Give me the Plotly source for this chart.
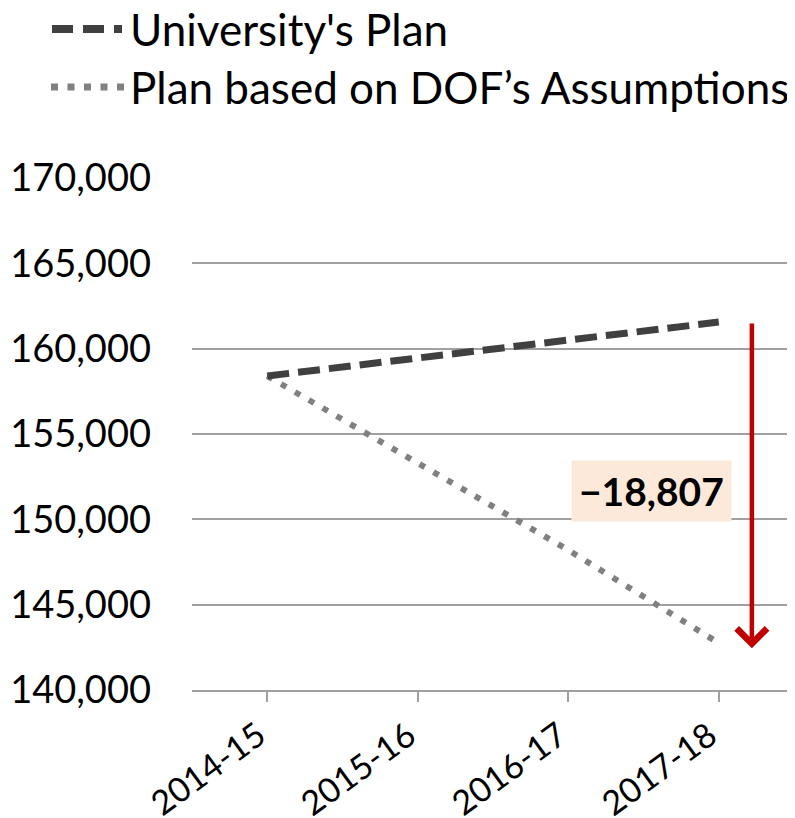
import plotly.graph_objects as go

YEARS = ["2014-15", "2015-16", "2016-17", "2017-18"]
UNIVERSITY_PLAN = [158400, 159420, 160450, 161557]
DOF_PLAN = [158400, 153250, 148200, 142750]
Y_TICKS = [140000, 145000, 150000, 155000, 160000, 165000, 170000]

LEGEND_NAMES = ["University's Plan", "Plan based on DOF’s Assumptions"]

FONT = "Lato"
DARK = "#404040"
GREY = "#808080"
RED = "#C00000"

# the page body has an 8px margin, so the figure is a bit smaller than the window
OFF = 8
W, H = 795 - OFF, 818 - OFF
# plot area on screen: x 192..794, y 178..690
L, R, T, B = 192 - OFF, 795 - 794, 178 - OFF, 818 - 690
PW, PH = W - L - R, H - T - B


def px_x(p):
    return (p - 192) / PW


def px_y(p):
    return (690 - p) / PH


fig = go.Figure()
fig.add_trace(go.Scatter(
    x=YEARS, y=DOF_PLAN, mode="lines", name=LEGEND_NAMES[1],
    line=dict(color=GREY, width=6, dash="6px,10px"),
    showlegend=False,
))
fig.add_trace(go.Scatter(
    x=YEARS, y=UNIVERSITY_PLAN, mode="lines", name=LEGEND_NAMES[0],
    line=dict(color=DARK, width=7, dash="22px,9px"),
    showlegend=False,
))

gap = UNIVERSITY_PLAN[-1] - DOF_PLAN[-1]

# red arrow showing the gap in the last year
fig.add_annotation(
    x=3.22, y=DOF_PLAN[-1] - 300, ax=3.22, ay=UNIVERSITY_PLAN[-1],
    xref="x", yref="y", axref="x", ayref="y",
    text="", showarrow=True,
    arrowhead=4, arrowsize=1.3, arrowwidth=4.5, arrowcolor=RED,
)
fig.add_annotation(
    x=2.555, y=151660, xref="x", yref="y",
    text=f"<b>−{gap:,}</b>", showarrow=False,
    font=dict(family=FONT, size=39, color="black"),
    bgcolor="#FCE9DA", borderpad=7,
)

# hand-made legend (wide samples like the original)
legend_rows = [(29, DARK, 8, "21px,10px", 52, 122),
               (87, GREY, 7, "7px,9.5px", 51, 124)]
for (py, color, width, dash, x0, x1), name in zip(legend_rows, LEGEND_NAMES):
    fig.add_shape(
        type="line", xref="paper", yref="paper",
        x0=px_x(x0), x1=px_x(x1), y0=px_y(py), y1=px_y(py),
        line=dict(color=color, width=width, dash=dash),
    )
    fig.add_annotation(
        x=px_x(128), y=px_y(py), xref="paper", yref="paper",
        text=name, showarrow=False, xanchor="left", yanchor="middle",
        font=dict(family=FONT, size=44, color="black"),
    )

# rotated category labels, ending just under each tick
for year in YEARS:
    fig.add_annotation(
        x=year, y=0, xref="x", yref="paper",
        text=year, showarrow=False, textangle=-36,
        xanchor="right", yanchor="top", xshift=8, yshift=-20,
        font=dict(family=FONT, size=34, color="black"),
    )

# extra tick mark at the right end of the category axis
fig.add_shape(
    type="line", xref="x", yref="paper", ysizemode="pixel", yanchor=0,
    x0=3.5, x1=3.5, y0=0, y1=-10,
    line=dict(color="#A0A0A0", width=2),
)

fig.update_xaxes(
    type="category", range=[-0.5, 3.5], automargin=False,
    showgrid=False, showline=True, linecolor="#A0A0A0", linewidth=2,
    ticks="outside", ticklen=10, tickcolor="#A0A0A0", tickwidth=2,
    showticklabels=False,
)
fig.update_yaxes(
    range=[140000, 170000], tickvals=Y_TICKS, tickformat=",d", automargin=False,
    showgrid=True, gridcolor="#A0A0A0", gridwidth=2, zeroline=False,
    showline=False, ticks="", ticklabelstandoff=40,
    tickfont=dict(family=FONT, size=38, color="black"),
)
fig.update_layout(
    width=W, height=H, autosize=False,
    margin=dict(l=L, r=R, t=T, b=B),
    plot_bgcolor="white", paper_bgcolor="white",
    font=dict(family=FONT),
)

fig.write_html("out.html")
